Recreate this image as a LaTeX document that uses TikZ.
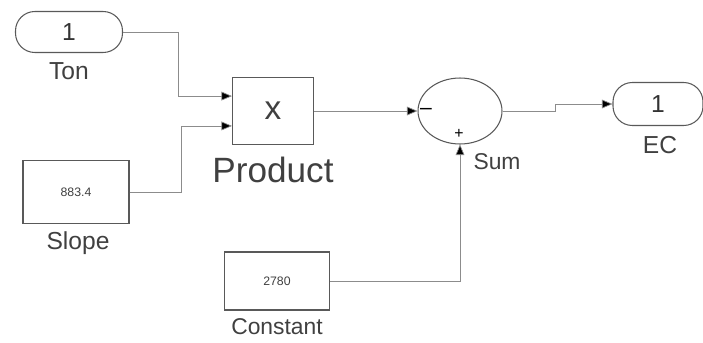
\documentclass[tikz,border=0pt]{standalone}
\usepackage{fontspec}
\setmainfont{Liberation Sans}
\usetikzlibrary{arrows.meta,shapes.geometric}

\begin{document}
\begin{tikzpicture}[x=0.02cm,y=-0.02cm]
            \tikzset{port/.style = {draw=black!65, semithick, rounded corners=11pt, minimum height=0.82cm, inner sep=0pt, text=black!80, font=\fontsize{14}{16}\selectfont}}
            \tikzset{block/.style = {draw=black!65, semithick, inner sep=0pt, text=black!75}}
            \tikzset{lbl/.style = {inner sep=0pt, text=black!75, font=\fontsize{14}{16}\selectfont}}
            \tikzset{sig/.style = {draw=black!45, -{Triangle[length=6pt,width=5pt,fill=black]}}}
            \useasboundingbox (0,0) rectangle (703,342);
            % blocks
            \node[port, minimum width=2.14cm] (ton) at (69,32) {1};
            \node[block, minimum width=1.62cm, minimum height=1.34cm, font=\fontsize{19}{20}\selectfont] (product) at (273,111) {x};
            \node[block, minimum width=2.12cm, minimum height=1.26cm, font=\fontsize{7}{8}\selectfont] (slope) at (76,192) {883.4};
            \node[block, shape=ellipse, minimum width=1.68cm, minimum height=1.32cm] (sum) at (460,111) {};
            \node[block, minimum width=2.1cm, minimum height=1.16cm, font=\fontsize{7}{8}\selectfont] (constant) at (277,281) {2780};
            \node[port, minimum width=1.8cm, minimum height=0.86cm] (ec) at (658,104) {1};
            % signs of the sum
            \node[inner sep=0pt, font=\fontsize{12}{12}\selectfont] (minus) at (426,111) {\textendash};
            \node[inner sep=0pt, font=\fontsize{9}{9}\selectfont] (plus) at (459,134) {+};
            % labels
            \node[lbl] (tonlbl) at (69,71) {Ton};
            \node[lbl, font=\fontsize{20}{22}\selectfont] (productlbl) at (273,170) {Product};
            \node[lbl] (slopelbl) at (78,243) {Slope};
            \node[lbl, font=\fontsize{13}{15}\selectfont] (sumlbl) at (497,162) {Sum};
            \node[lbl, font=\fontsize{13}{15}\selectfont] (constantlbl) at (277,327) {Constant};
            \node[lbl] (eclbl) at (660,145) {EC};
            % signals
            \draw[sig] (ton.east) -- ++(55,0) |- ([yshift=8.5pt]product.west);
            \draw[sig] (slope.east) -- ++(52,0) |- ([yshift=-8.5pt]product.west);
            \draw[sig] (product.east) -- (sum.west);
            \draw[sig] (constant.east) -| (sum.south);
            \draw[sig] (sum.east) -- ++(53,0) |- (ec.west);
        \end{tikzpicture}
\end{document}
